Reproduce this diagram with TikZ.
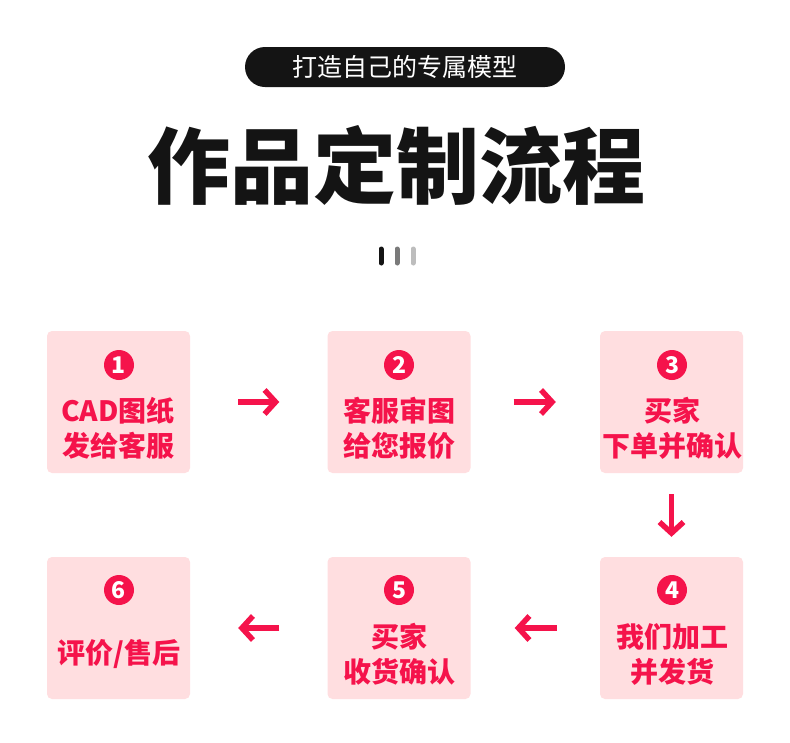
\documentclass[tikz,border=0pt]{standalone}
\usepackage{fontspec}
\setmainfont{Noto Sans CJK SC}
\newfontfamily\cjk{Noto Sans CJK SC}
\usetikzlibrary{arrows.meta,positioning}
\definecolor{ink}{HTML}{141414}
\definecolor{rose}{HTML}{F5134B}
\definecolor{blush}{HTML}{FFDEE0}
\definecolor{midgray}{HTML}{7A7A7A}
\definecolor{lightgray}{HTML}{BDBDBD}
\tikzset{
  stepbox/.style={fill=blush,rounded corners=5pt,minimum width=143pt,minimum height=142pt,inner sep=0pt},
  badge/.style={circle,fill=rose,text=white,minimum size=30pt,inner sep=0pt,font=\cjk\fontsize{23}{23}\selectfont\bfseries},
  steptext/.style={text=rose,align=center,font=\cjk\fontsize{28}{35}\selectfont\bfseries},
  flow/.style={-{Straight Barb[length=11pt,width=24pt,line width=5.5pt]},line width=5.5pt,draw=rose},
  tick/.style={line width=5pt,line cap=round}
}
\begin{document}
\begin{tikzpicture}[x=1pt,y=-1pt]
    \useasboundingbox[fill=white] (0,0) rectangle (790,742);

    % heading
    \node[fill=ink,rounded corners=20pt,minimum width=320pt,minimum height=40pt,text=white,font=\cjk\fontsize{25}{25}\selectfont] (tag) at (405,67) {打造自己的专属模型};
    \node[text=ink,font=\cjk\fontsize{83}{83}\selectfont\bfseries] (title) at (396,165) {作品定制流程};
    \draw[tick,draw=ink] (381,249) -- (381,263);
    \draw[tick,draw=midgray] (397,249) -- (397,263);
    \draw[tick,draw=lightgray] (413,249) -- (413,263);

    % steps
    \node[stepbox] (s1) at (118.5,402) {};
    \node[stepbox] (s2) at (399,402) {};
    \node[stepbox] (s3) at (671.5,402) {};
    \node[stepbox] (s4) at (671.5,628) {};
    \node[stepbox] (s5) at (399,628) {};
    \node[stepbox] (s6) at (118.5,628) {};

    \node[badge] (n1) at (119,365) {1};
    \node[badge] (n2) at (399,365) {2};
    \node[badge] (n3) at (672,365) {3};
    \node[badge] (n4) at (672,590) {4};
    \node[badge] (n5) at (399,590) {5};
    \node[badge] (n6) at (119,590) {6};

    \node[steptext] (t1) at (118,428) {CAD图纸\\发给客服};
    \node[steptext] (t2) at (399,428) {客服审图\\给您报价};
    \node[steptext] (t3) at (672,428) {买家\\下单并确认};
    \node[steptext] (t4) at (672,654) {我们加工\\并发货};
    \node[steptext] (t5) at (399,654) {买家\\收货确认};
    \node[steptext] (t6) at (119,654) {评价/售后};

    \draw[flow,shorten <=48pt,shorten >=48pt] (s1) -- (s2);
    \draw[flow,shorten <=43pt,shorten >=44pt] (s2) -- (s3);
    \draw[flow,shorten <=21pt,shorten >=20pt] (s3) -- (s4);
    \draw[flow,shorten <=43pt,shorten >=44pt] (s4) -- (s5);
    \draw[flow,shorten <=48pt,shorten >=48pt] (s5) -- (s6);
  \end{tikzpicture}
\end{document}
